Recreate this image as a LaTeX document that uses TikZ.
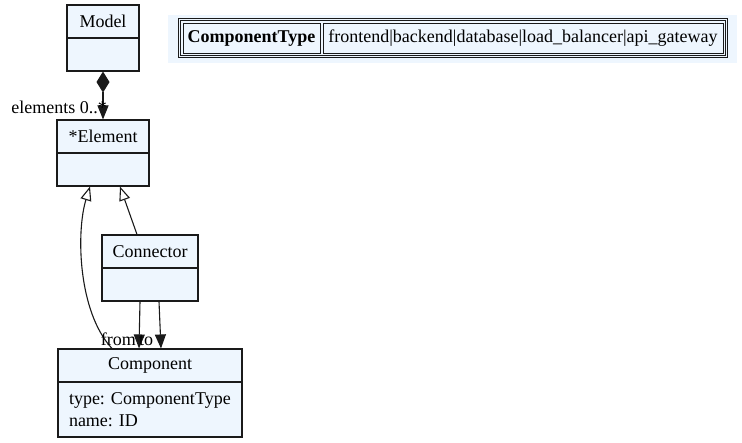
\documentclass[tikz,border=0pt]{standalone}
\usepackage{fontspec}
\setmainfont{Liberation Serif}
\usetikzlibrary{arrows.meta}
\definecolor{boxfill}{HTML}{EEF6FE}
\definecolor{edgecol}{HTML}{1A1A1A}
\frenchspacing
\tikzset{
  every node/.style={font=\fontsize{18}{22}\selectfont},
  cls/.style={draw=edgecol, line width=1.1pt, fill=boxfill, inner sep=0pt, rectangle},
  lbl/.style={inner sep=0pt},
  conn/.style={draw=edgecol, line width=1.1pt},
  filledtip/.style={-{Triangle[length=14pt,width=11pt]}},
  opentip/.style={-{Triangle[open,length=14pt,width=11pt,fill=white]}},
}
\begin{document}
\begin{tikzpicture}[x=1pt,y=-1pt]
\useasboundingbox (0,0) rectangle (742,443);
% Model
\node[cls, minimum width=72pt, minimum height=33pt] (mh) at (103,21.5) {Model};
\node[cls, minimum width=72pt, minimum height=33pt] (mb) at (103,54.5) {};
% Element
\node[cls, minimum width=92pt, minimum height=33pt] (eh) at (103,136.5) {*Element};
\node[cls, minimum width=92pt, minimum height=33pt] (eb) at (103,169.5) {};
% Connector
\node[cls, minimum width=96pt, minimum height=33pt] (ch) at (150,251.5) {Connector};
\node[cls, minimum width=96pt, minimum height=33pt] (cb) at (150,284.5) {};
% Component
\node[cls, minimum width=184pt, minimum height=33pt] (kh) at (150,365.5) {Component};
\node[cls, minimum width=184pt, minimum height=55pt, text width=162pt, align=left, inner xsep=11pt] (kb) at (150,409.5) {type: ComponentType\\name: ID};
% Enum table
\fill[boxfill] (168,15) rectangle (737,63);
\draw[edgecol, line width=1pt] (178,19) rectangle (727,58);
\draw[edgecol, line width=1pt] (180,21) rectangle (725,56);
\node[cls, line width=1pt, minimum width=137pt, minimum height=30pt, font=\fontsize{18}{22}\selectfont\bfseries] (t1) at (251.5,38.5) {ComponentType};
\node[cls, line width=1pt, minimum width=400pt, minimum height=30pt] (t2) at (523,38.5) {frontend|backend|database|load\_balancer|api\_gateway};
% Edges
\draw[conn, {Diamond[length=21pt,width=13pt,fill=edgecol]}-{Triangle[length=14pt,width=11pt]}] (mb.south) -- (eh.north);
\node[lbl, anchor=base east] (elbl) at (107,114) {elements 0..*};
\draw[conn, opentip] ([xshift=-13pt]ch.north) -- ([xshift=17pt]eb.south);
\draw[conn, opentip] ([xshift=-38pt]kh.north) .. controls (78,312) and (76,232) .. ([xshift=-13pt]eb.south);
\draw[conn, filledtip] ([xshift=-10pt]cb.south) -- ([xshift=-11pt]kh.north);
\draw[conn, filledtip] ([xshift=9pt]cb.south) -- ([xshift=11pt]kh.north);
\node[lbl, anchor=base east] (flbl) at (136,346) {from};
\node[lbl, anchor=base west] (tlbl) at (139,346) {to};
\end{tikzpicture}
\end{document}
